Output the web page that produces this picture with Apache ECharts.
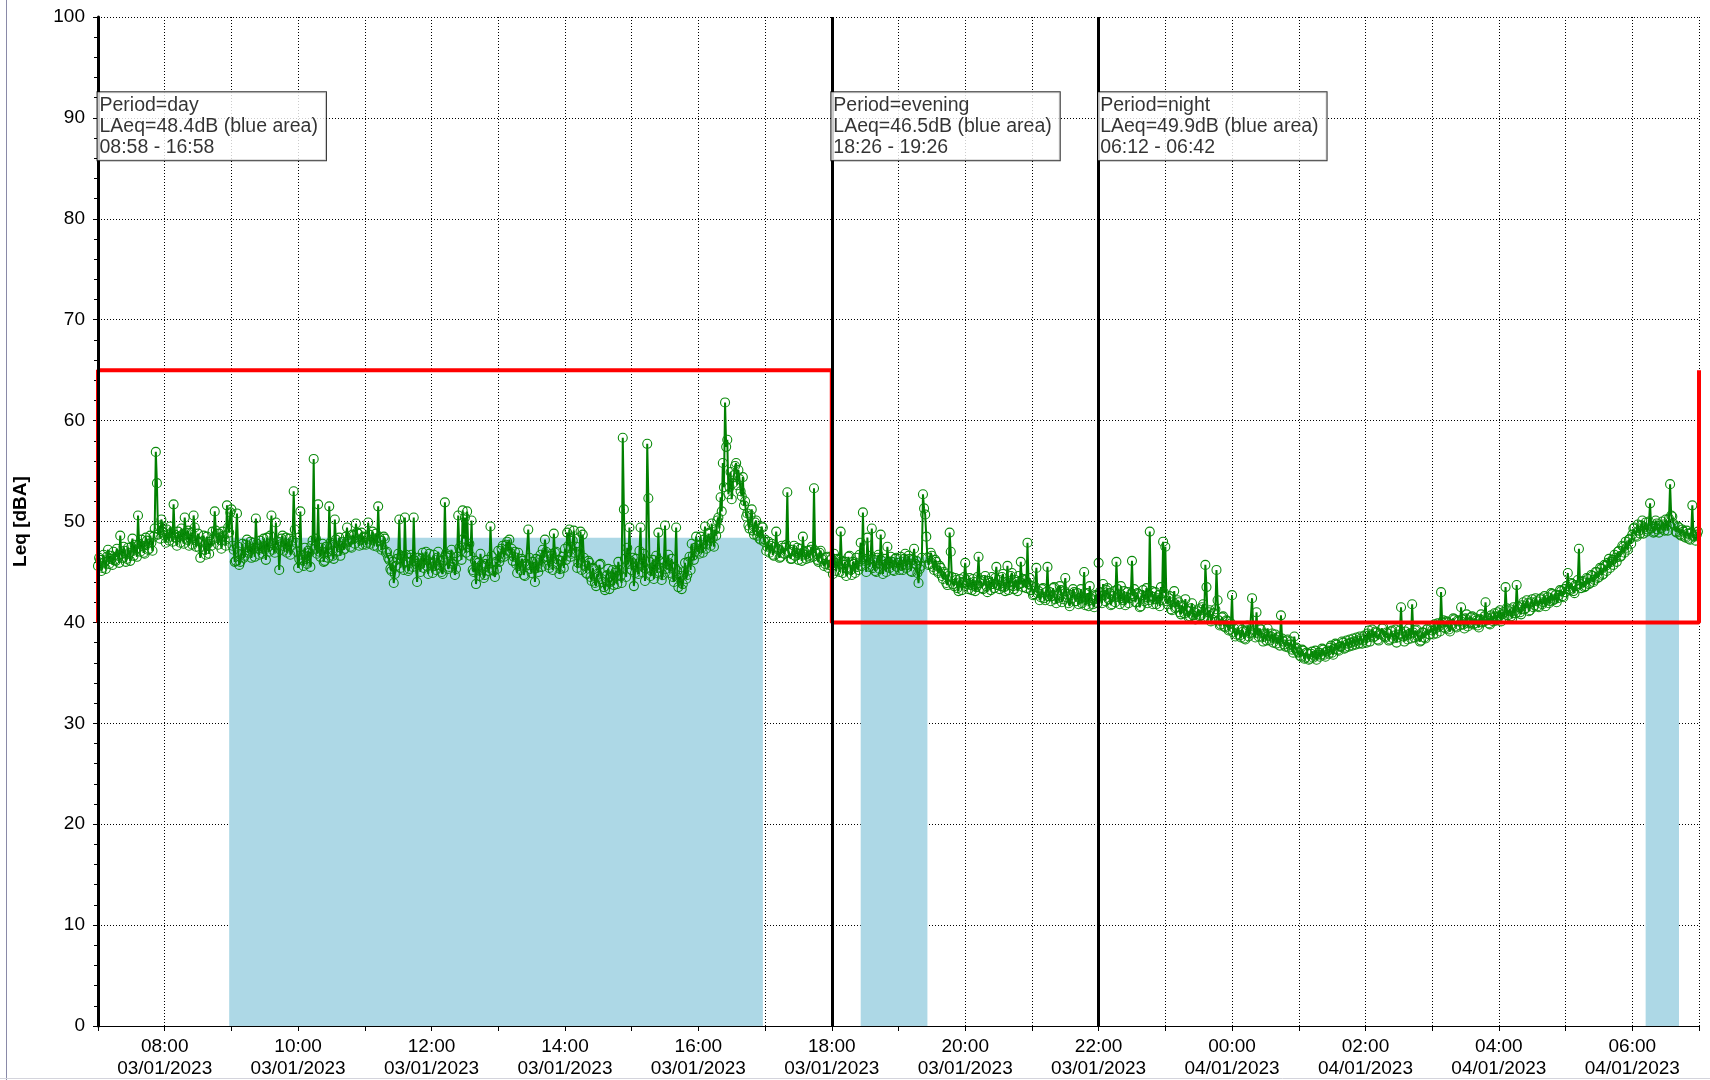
<!DOCTYPE html>
<html>
<head>
<meta charset="utf-8">
<script src="https://cdn.jsdelivr.net/npm/echarts@6/dist/echarts.min.js"></script>
<style>
html,body{margin:0;padding:0;background:#fff;}
#chart{width:1710px;height:1080px;}
</style>
</head>
<body>
<div id="chart"></div>
<script>
// ---- Data: Leq samples every minute, one array per hour (03/01/2023 07:00 -> 04/01/2023 06:59)
const STEP_MIN = 1;
const FIRST_HOUR = 7;
const h07 = [45.6,46.4,46.2,45.1,45.4,46.7,46.0,45.3,46.5,47.2,45.8,46.6,46.3,45.7,47.0,46.2,46.1,47.3,46.6,45.9,48.6,46.8,46.4,47.5,47.1,46.0,46.3,47.4,46.9,46.1,47.5,48.3,46.6,47.7,47.2,46.5,50.6,47.8,47.0,48.2,47.6,46.9,46.8,48.4,48.1,47.2,47.3,48.6,47.9,47.1,48.5,49.3,56.9,53.8,48.7,49.6,48.3,50.2,49.5,48.9];
const h08 = [48.6,47.9,49.2,48.4,48.1,49.5,48.9,48.0,51.7,48.7,48.4,47.6,49.0,48.5,47.9,49.3,48.7,47.8,50.4,48.9,48.2,49.1,47.6,48.3,48.9,47.7,50.6,49.4,47.5,48.1,48.8,47.4,46.4,47.9,48.0,48.6,47.2,46.7,48.5,47.8,46.8,48.0,47.6,49.0,48.3,51.0,49.1,48.4,47.7,48.8,48.4,47.3,49.0,48.6,48.2,47.6,51.6,49.4,48.9,50.9];
const h09 = [51.2,47.6,47.2,46.0,46.1,50.8,47.5,45.7,46.0,46.8,47.8,46.4,46.6,47.7,48.2,46.9,47.1,48.0,46.4,47.3,47.9,46.5,50.3,47.8,47.3,46.7,48.1,47.4,46.8,48.3,47.6,46.2,48.4,47.5,47.0,48.6,50.6,47.2,47.8,46.9,49.9,47.7,48.0,45.2,47.2,48.3,48.6,47.1,47.5,48.4,46.9,47.8,48.3,46.7,47.6,48.1,53.0,49.2,47.9,47.0];
const h10 = [45.4,46.3,51.0,46.7,46.2,45.6,47.4,46.5,45.8,47.1,46.9,45.5,47.6,48.1,56.2,47.3,48.3,46.8,51.7,47.0,46.5,47.4,47.8,46.0,46.1,47.5,47.0,46.4,51.5,47.9,47.7,46.6,46.3,50.2,48.2,47.0,47.1,48.4,46.6,47.6,48.0,47.2,47.3,48.5,49.4,48.0,48.1,47.5,47.4,48.7,48.6,47.8,49.8,48.9,48.8,47.6,48.2,48.9,47.7,48.5];
const h11 = [48.4,47.7,47.9,49.9,48.7,47.8,48.2,49.0,47.6,48.3,48.8,47.5,51.5,48.4,48.1,47.2,47.4,48.5,48.3,46.9,47.0,46.4,46.2,45.3,45.1,46.0,43.9,44.8,45.6,46.3,46.8,50.2,45.4,46.6,46.5,45.2,50.4,46.7,46.0,45.1,45.3,46.4,46.7,45.5,50.4,46.1,45.8,44.0,46.4,45.7,45.0,46.3,46.9,45.4,46.2,47.0,45.6,44.8,46.8,45.9];
const h12 = [45.8,44.9,46.7,45.6,45.2,46.4,47.0,45.7,46.1,45.0,44.8,46.2,51.9,46.8,46.4,45.3,45.5,46.6,47.2,45.8,46.0,44.7,45.3,46.5,50.6,47.4,47.1,46.2,51.1,48.3,50.4,46.9,51.0,47.5,47.8,46.6,50.1,45.2,45.0,46.1,43.8,45.4,45.9,44.6,46.8,45.7,45.6,44.4,44.7,45.8,46.2,45.1,45.4,49.5,46.6,45.2,45.1,44.5,46.0,45.3];
const h13 = [47.1,46.0,46.4,47.3,47.6,46.5,46.8,47.7,48.0,47.1,48.2,46.9,47.3,46.1,46.5,47.0,45.8,44.9,46.9,45.6,45.2,46.3,46.1,44.7,44.6,45.8,45.7,49.2,46.4,45.3,44.9,46.0,45.5,44.0,46.3,45.4,45.0,46.2,46.7,45.5,47.2,46.4,48.2,47.0,46.5,45.7,45.4,46.6,46.8,45.2,48.8,46.9,47.0,45.8,46.2,44.8,45.3,46.1,46.5,45.4];
const h14 = [47.3,46.2,48.9,47.6,49.2,46.5,46.8,48.1,49.1,46.9,47.5,45.4,45.9,47.0,49.0,45.2,48.7,46.4,45.6,44.9,44.8,46.1,45.9,44.5,44.1,45.4,45.3,43.9,43.6,44.8,44.5,45.7,45.8,44.3,44.0,43.5,43.2,44.6,44.7,45.3,43.3,44.0,44.2,45.2,43.7,44.9,45.1,43.8,46.0,45.2,44.6,43.9,58.3,51.2,46.3,44.5,47.4,45.8,49.4,46.1];
const h15 = [45.2,46.4,43.6,44.9,46.3,45.5,44.8,47.1,49.4,45.0,45.7,46.8,44.1,45.3,57.7,52.3,46.0,44.6,45.1,46.2,44.3,45.6,46.6,44.9,48.9,46.1,45.4,44.2,44.7,45.9,49.6,45.3,45.8,46.7,44.9,45.6,46.3,44.5,44.0,45.4,49.4,45.1,43.5,44.4,44.6,43.3,43.8,45.0,45.9,44.3,44.7,46.0,46.5,45.2,47.8,46.6,46.2,47.4,48.5,47.0];
const h16 = [47.6,46.8,48.5,47.4,46.9,48.2,49.5,47.3,47.8,48.8,48.9,47.6,49.8,48.4,47.5,49.2,48.6,50.1,50.4,49.3,52.4,51.0,55.8,53.4,61.8,57.4,58.1,52.7,53.4,54.9,52.2,53.8,54.6,55.5,55.8,53.6,55.1,54.2,53.0,52.5,54.4,51.6,52.0,50.5,50.8,49.6,49.3,50.6,51.2,49.1,48.7,49.9,50.1,48.6,49.0,48.3,48.2,49.5,49.4,48.0];
const h17 = [48.2,47.1,47.5,48.0,46.9,47.6,47.8,46.7,46.6,47.5,49.0,47.3,47.2,46.4,46.5,47.6,47.4,46.8,46.8,47.7,52.9,46.9,47.0,46.3,46.3,47.2,47.6,46.6,46.9,47.4,46.2,46.8,47.3,46.1,48.5,47.0,46.7,46.3,47.1,46.6,46.4,47.2,47.5,46.5,53.3,47.1,46.8,46.2,46.0,46.9,47.1,46.3,46.4,45.6,45.8,46.4,46.5,45.4,45.7,46.2];
const h18 = [45.6,44.8,46.8,45.9,45.1,46.3,46.2,45.0,49.0,46.1,44.9,45.7,46.0,44.6,45.3,46.5,46.6,45.2,44.7,46.0,45.8,44.9,46.4,45.5,45.2,46.7,47.9,45.6,50.9,46.3,46.1,45.0,48.4,46.2,45.5,46.6,49.3,45.4,46.2,45.1,45.0,46.4,46.7,45.3,48.7,46.1,44.8,45.7,46.3,45.0,47.5,45.8,45.4,46.5,46.0,45.2,45.1,46.3,46.4,45.5];
const h19 = [45.9,45.2,46.5,45.6,45.2,46.3,46.8,45.4,45.7,46.6,46.3,45.1,45.0,46.2,47.3,45.8,46.1,44.9,43.9,45.3,45.6,46.4,52.7,51.3,50.7,48.5,46.4,45.7,45.8,46.9,46.6,45.5,45.2,46.2,46.0,45.1,44.9,45.6,45.4,44.6,44.3,45.0,44.8,43.9,43.7,44.6,48.9,47.0,44.5,43.8,43.6,44.4,44.2,43.4,43.1,44.3,44.0,43.2,43.9,44.5];
const h20 = [45.9,44.2,43.8,43.3,44.4,43.7,43.2,44.3,44.0,43.1,43.5,44.5,46.5,43.9,44.1,43.4,43.3,44.2,44.6,43.6,43.0,44.1,43.9,43.2,44.5,43.8,43.4,44.4,45.5,43.7,44.2,43.3,43.6,44.5,44.8,43.5,43.1,44.0,45.6,43.2,43.7,44.6,44.9,43.6,43.3,44.2,44.0,43.1,44.6,43.8,46.0,43.9,43.5,44.3,44.2,43.4,47.9,43.8,44.4,43.2];
const h21 = [43.6,42.7,42.8,43.5,45.4,42.9,43.1,42.2,42.5,43.3,43.4,42.4,42.2,43.0,45.5,42.6,43.0,42.1,42.6,43.4,43.5,42.3,41.9,42.8,42.7,43.6,43.2,42.0,42.3,43.1,44.4,42.5,42.8,41.9,41.6,42.7,42.4,43.3,43.0,42.1,42.1,42.9,41.8,42.4,43.3,41.9,42.5,45.0,41.7,42.3,42.9,41.6,43.6,42.4,42.2,41.8,41.5,42.7,42.6,41.9];
const h22 = [45.9,43.0,42.6,41.9,43.8,42.7,42.1,43.2,43.4,42.3,42.9,41.7,41.8,42.6,43.1,42.0,46.0,43.3,42.5,41.8,43.6,42.4,42.2,43.1,41.7,42.5,43.0,41.9,42.4,42.8,46.1,42.6,43.3,42.0,42.0,42.9,42.8,41.5,41.6,42.7,43.2,42.1,42.5,43.4,41.9,42.2,49.0,42.6,43.1,41.8,42.3,43.0,41.8,42.4,42.7,41.6,43.5,42.2,48.0,42.9];
const h23 = [47.5,42.1,41.8,42.4,42.6,41.3,41.2,42.0,43.1,41.4,41.5,42.2,42.0,41.0,40.8,41.7,41.6,40.9,42.3,41.2,41.1,40.5,40.6,41.4,41.9,40.7,41.0,40.3,40.4,41.1,41.3,40.6,40.7,41.5,41.8,40.4,45.7,43.5,40.5,41.0,41.2,40.1,40.3,40.9,40.9,41.3,45.2,42.2,40.2,39.7,39.8,40.5,40.6,39.6,39.5,40.2,40.1,39.2,39.3,39.9];
const h00 = [42.7,39.0,39.4,38.6,38.8,39.5,39.6,38.7,38.5,39.3,39.1,38.4,38.3,39.2,39.7,38.6,38.9,39.0,42.4,39.6,39.2,38.5,41.0,38.9,38.6,39.4,39.3,38.5,38.1,38.9,38.8,38.2,39.4,38.7,38.2,38.6,38.9,38.0,38.4,38.8,37.9,38.5,38.6,37.7,40.7,38.4,38.1,37.8,37.6,38.2,38.3,37.5,37.8,38.1,37.3,37.0,38.6,37.4,37.5,37.1];
const h01 = [37.0,36.7,36.6,37.3,37.2,36.4,36.5,37.0,36.9,36.3,36.4,36.9,37.1,36.5,36.7,37.2,36.3,36.8,37.0,36.6,36.8,37.4,37.3,36.8,36.6,37.1,37.2,36.9,37.5,37.7,37.0,36.8,37.4,37.9,37.8,37.3,37.2,37.6,37.6,38.1,38.0,37.4,37.5,38.2,37.9,37.6,38.3,38.0,37.7,38.4,38.1,37.8,38.5,38.2,37.9,38.6,38.4,37.9,38.2,38.7];
const h02 = [38.4,38.0,38.9,39.2,38.1,38.7,39.3,38.5,38.6,39.1,39.0,38.3,38.2,38.9,38.8,39.4,39.5,38.6,38.5,39.0,38.9,38.2,38.3,39.1,39.2,38.4,38.7,39.3,38.0,38.5,38.8,39.2,41.5,38.9,38.6,38.1,39.1,38.7,38.3,39.4,38.9,38.4,41.8,39.0,38.5,39.2,39.3,38.6,38.7,38.1,38.2,39.0,39.0,38.5,38.4,39.3,39.4,38.8,38.8,39.5];
const h03 = [39.2,38.8,39.8,39.4,38.9,39.9,39.6,39.1,43.0,40.0,40.2,39.5,39.4,40.1,40.0,39.3,39.1,39.8,39.7,40.4,40.3,39.6,39.5,40.2,40.1,39.7,41.5,40.3,39.8,39.4,40.4,40.8,39.6,39.9,40.0,40.5,40.6,39.8,39.9,40.4,40.2,39.7,39.5,40.3,40.8,40.0,40.1,40.6,42.0,40.2,40.4,39.9,39.8,40.7,40.5,40.1,40.9,40.6,40.2,41.0];
const h04 = [40.6,41.2,40.1,40.8,41.0,40.5,43.5,41.4,40.7,41.1,41.3,40.6,40.4,41.5,41.1,40.9,43.7,41.6,41.5,41.0,40.8,41.7,42.0,41.3,41.4,42.2,41.9,41.1,41.2,42.0,42.3,41.5,41.7,42.4,42.1,41.6,41.5,42.3,42.4,41.8,42.0,42.6,41.6,42.2,42.5,41.9,42.1,42.9,42.8,42.2,42.3,42.7,42.0,42.4,42.7,43.2,43.1,42.6,42.5,43.3];
const h05 = [43.0,43.6,44.9,43.3,43.2,43.9,43.8,43.1,42.9,43.7,43.6,44.2,47.3,43.8,43.4,44.0,44.1,43.5,43.6,44.4,44.3,43.8,43.9,44.7,44.6,44.0,44.2,45.0,45.0,44.4,44.5,45.4,45.3,44.7,44.8,45.7,45.6,45.1,45.9,46.3,45.4,46.0,46.2,45.7,46.7,46.4,46.0,47.0,47.1,46.5,46.6,47.6,47.5,46.9,48.0,47.4,47.2,48.2,48.3,47.8];
const h06 = [48.7,49.3,49.4,48.6,48.5,49.7,49.1,48.8,49.6,50.1,48.8,49.4,49.9,49.0,49.2,50.0,51.8,49.3,49.5,48.9,49.0,50.1,49.8,49.2,48.9,49.6,49.3,50.0,49.7,49.1,50.2,49.6,49.1,50.3,53.7,50.6,50.5,49.8,49.6,49.0,48.9,49.5,49.4,48.7,48.6,49.2,49.0,48.5,48.4,49.1,48.8,48.3,48.2,48.9,51.6,48.6,48.5,48.1,48.7,49.0];
const hours = [h07,h08,h09,h10,h11,h12,h13,h14,h15,h16,h17,h18,h19,h20,h21,h22,h23,h00,h01,h02,h03,h04,h05,h06];

// ---- Periods
const periodNames = ['day', 'evening', 'night'];
const periodStart = [7, 18, 22];           // hours since 03/01/2023 00:00
const periodLAeq = [48.4, 46.5, 49.9];
const periodFrom = ['08:58', '18:26', '06:12'];
const periodTo = ['16:58', '19:26', '06:42'];

// ---- Limit line (dB)
const limitX = [7, 7, 18, 18, 31, 31];
const limitY = [40, 65, 65, 40, 40, 65];

// ---- Axis
const X_MIN = 7, X_MAX = 31;
const yTicks = [0, 10, 20, 30, 40, 50, 60, 70, 80, 90, 100];

function toHours(s) {
  const [h, m] = s.split(':').map(Number);
  let v = h + m / 60;
  if (v < X_MIN) v += 24;
  return v;
}
function pad(n) { return (n < 10 ? '0' : '') + n; }

const leqData = [];
hours.forEach((arr, k) => {
  arr.forEach((v, i) => {
    leqData.push([FIRST_HOUR + k + i * STEP_MIN / 60, v]);
  });
});

const FONT = '"Liberation Sans", Arial, sans-serif';
const chart = echarts.init(document.getElementById('chart'), null, { renderer: 'canvas' });

const option = {
  animation: false,
  backgroundColor: '#fff',
  textStyle: { fontFamily: FONT },
  grid: { left: 98, right: 11, top: 17, bottom: 54, containLabel: false },
  xAxis: {
    type: 'value', min: X_MIN, max: X_MAX, interval: 1,
    axisLine: { show: true, onZero: false, lineStyle: { color: '#000', width: 1 } },
    axisTick: { show: true, length: 5, lineStyle: { color: '#000' } },
    axisLabel: {
      color: '#000', fontSize: 19, fontFamily: FONT, lineHeight: 22, margin: 10,
      formatter: function (v) {
        const h = Math.round(v) % 24;
        if (h % 2 !== 0) return '';
        const day = v < 24 ? '03' : '04';
        return pad(h) + ':00\n' + day + '/01/2023';
      }
    },
    splitLine: { show: true, lineStyle: { color: '#000', width: 1, type: [1, 2] } }
  },
  yAxis: {
    type: 'value', min: yTicks[0], max: yTicks[yTicks.length - 1], interval: 10,
    name: 'Leq [dBA]', nameLocation: 'middle', nameGap: 68,
    nameTextStyle: { color: '#000', fontWeight: 'bold', fontSize: 19, fontFamily: FONT },
    axisLine: { show: true, lineStyle: { color: '#000', width: 3 } },
    axisTick: { show: true, length: 5, lineStyle: { color: '#000' } },
    minorTick: { show: true, splitNumber: 5, length: 4, lineStyle: { color: '#000' } },
    axisLabel: { color: '#000', fontSize: 19, fontFamily: FONT, margin: 13 },
    splitLine: { show: true, lineStyle: { color: '#000', width: 1, type: [1, 2] } }
  },
  series: [
    {
      name: 'blue', type: 'line', data: [], z: 1, silent: true,
      markArea: {
        silent: true,
        itemStyle: { color: '#ADD8E6', opacity: 1 },
        data: periodFrom.map((f, i) => [
          { xAxis: toHours(f), yAxis: 0 },
          { xAxis: toHours(periodTo[i]), yAxis: periodLAeq[i] }
        ])
      }
    },
    {
      name: 'Leq', type: 'line', data: leqData, z: 2,
      symbol: 'circle', symbolSize: 9, showSymbol: true, showAllSymbol: true,
      lineStyle: { color: '#008000', width: 2 },
      itemStyle: { color: 'rgba(0,0,0,0)', borderColor: '#0a8a0a', borderWidth: 1.1 },
      silent: true
    },
    {
      name: 'limit', type: 'line', z: 3, silent: true,
      data: limitX.map((x, i) => [x, limitY[i]]),
      symbol: 'none',
      lineStyle: { color: '#FF0000', width: 4 }
    },
    {
      name: 'bounds', type: 'line', data: [], z: 4, silent: true,
      markLine: {
        silent: true, symbol: 'none', label: { show: false },
        lineStyle: { color: '#000', width: 3, type: 'solid' },
        data: periodStart.map(x => ({ xAxis: x }))
      }
    },
    {
      name: 'labels', type: 'scatter', z: 5, silent: true,
      symbolSize: 1, itemStyle: { color: 'rgba(0,0,0,0)' },
      data: periodStart.map(x => [x, 92.5]),
      label: {
        show: true, position: [0, 0], align: 'left', verticalAlign: 'top',
        color: '#000', fontSize: 19.5, fontFamily: FONT, lineHeight: 21,
        backgroundColor: '#fff', borderColor: '#000', borderWidth: 1,
        padding: [3, 8, 2, 2],
        formatter: function (p) {
          const i = p.dataIndex;
          return 'Period=' + periodNames[i] + '\nLAeq=' + periodLAeq[i].toFixed(1) +
            'dB (blue area)\n' + periodFrom[i] + ' - ' + periodTo[i];
        }
      }
    }
  ],
  graphic: [
    { type: 'line', shape: { x1: 6.5, y1: 0, x2: 6.5, y2: 1080 }, style: { stroke: '#8a8aa8', lineWidth: 1 }, silent: true },
    { type: 'line', shape: { x1: 0, y1: 1078.5, x2: 1710, y2: 1078.5 }, style: { stroke: '#d4d4dc', lineWidth: 1 }, silent: true }
  ]
};
chart.setOption(option);
</script>
</body>
</html>
